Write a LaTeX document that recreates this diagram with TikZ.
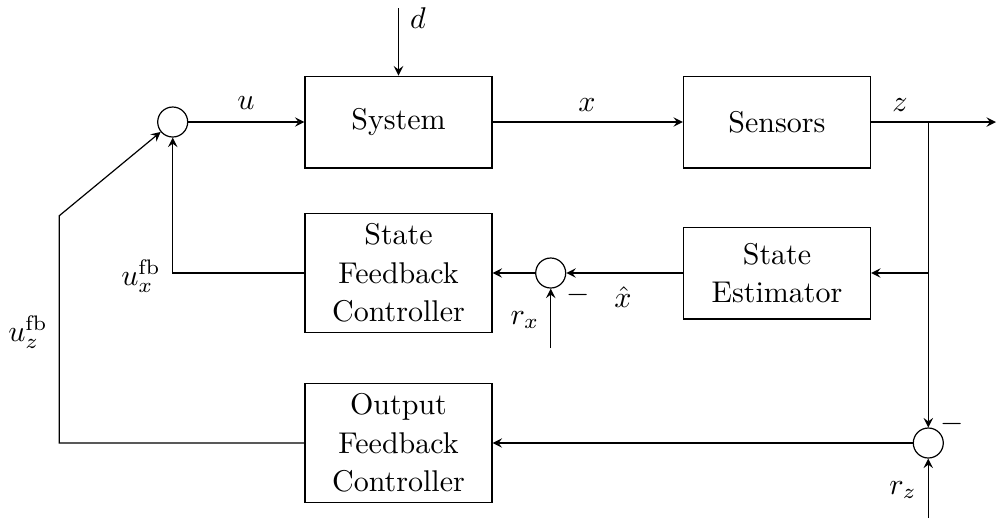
\documentclass[tikz,border=0pt]{standalone}
\usetikzlibrary{arrows}
\begin{document}
\begin{tikzpicture}[x=0.33333pt,y=-0.33333pt,
  block/.style={draw, line width=0.4pt, minimum width=62.3pt, minimum height=30.6pt, align=center, font=\fontsize{10}{12.8}\selectfont},
  sumc/.style={draw, circle, line width=0.4pt, minimum size=10pt, inner sep=0pt},
  conn/.style={-stealth, line width=0.4pt},
  plain/.style={line width=0.4pt},
  lbl/.style={inner sep=0pt}]
\useasboundingbox (0,0) rectangle (997,521);
% blocks
\node[block] (sys) at (398.5,122) {System};
\node[block] (sen) at (777,122) {Sensors};
\node[block] (est) at (777,273) {State\\Estimator};
\node[block] (sfc) at (398.5,273) {State\\Feedback\\Controller};
\node[block] (ofc) at (398.5,443) {Output\\Feedback\\Controller};
% summing junctions
\node[sumc] (s1) at (172.7,122) {};
\node[sumc] (s2) at (550.7,273) {};
\node[sumc] (s3) at (928.3,443) {};
% helper coordinates
\coordinate (dtop) at (398.5,8);
\coordinate (out) at (996,122);
\coordinate (br) at (928.3,122);
\coordinate (br2) at (928.3,273);
\coordinate (rxin) at (550.7,348);
\coordinate (rzin) at (928.3,518);
\coordinate (ka) at (172.7,273);
\coordinate (kb) at (59.3,443);
\coordinate (kc) at (59.3,215.7);
% connectors
\draw[conn] (s1) -- (sys);
\draw[conn] (dtop) -- (sys.north);
\draw[conn] (sys) -- (sen);
\draw[conn] (sen) -- (out);
\draw[conn] (br) -- (s3);
\draw[conn] (br2) -- (est);
\draw[conn] (est) -- (s2);
\draw[conn] (s2) -- (sfc);
\draw[conn] (rxin) -- (s2);
\draw[conn] (sfc.west) -- (ka) -- (s1);
\draw[conn] (s3) -- (ofc);
\draw[conn] (rzin) -- (s3);
\draw[conn] (ofc.west) -- (kb) -- (kc) -- (s1);
% labels
\node[lbl] (lu) at (246,103) {$u$};
\node[lbl] (lx) at (587,105) {$x$};
\node[lbl] (lz) at (900,105) {$z$};
\node[lbl] (ld) at (418,18) {$d$};
\node[lbl] (lxh) at (623,297) {$\hat{x}$};
\node[lbl] (lm2) at (578,295) {$-$};
\node[lbl] (lrx) at (525,320) {$r_x$};
\node[lbl] (lm3) at (952,424) {$-$};
\node[lbl] (lrz) at (903,490) {$r_z$};
\node[lbl] (lux) at (141,276) {$u_x^{\mathrm{fb}}$};
\node[lbl] (luz) at (28,332) {$u_z^{\mathrm{fb}}$};
\end{tikzpicture}
\end{document}
